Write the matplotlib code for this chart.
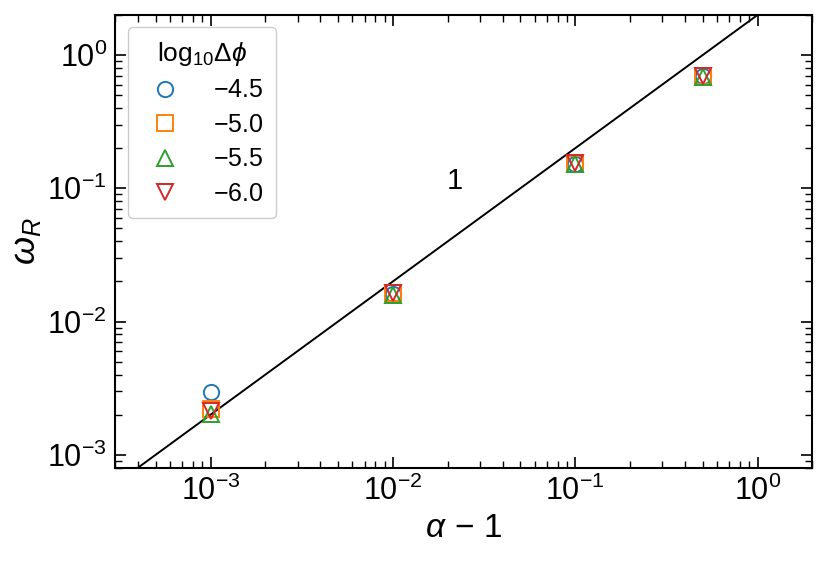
import numpy as np
import matplotlib
matplotlib.use("Agg")
import matplotlib.pyplot as plt

plt.rcParams['font.family'] = ['Liberation Sans', 'DejaVu Sans']
plt.rcParams['mathtext.fontset'] = 'custom'
plt.rcParams['mathtext.rm'] = 'Liberation Sans'
plt.rcParams['mathtext.it'] = 'Liberation Sans:italic'
plt.rcParams['mathtext.bf'] = 'Liberation Sans:bold'

# data
alpha_minus_1 = [1e-3, 1e-2, 1e-1, 0.5]
labels = ['$-4.5$', '$-5.0$', '$-5.5$', '$-6.0$']
omega_m45 = [2.97e-3, 0.0160, 0.152, 0.70]
omega_m50 = [2.22e-3, 0.0163, 0.153, 0.70]
omega_m55 = [2.02e-3, 0.0157, 0.151, 0.69]
omega_m60 = [2.12e-3, 0.0164, 0.154, 0.70]
series = [omega_m45, omega_m50, omega_m55, omega_m60]
markers = ['o', 's', '^', 'v']
colors = ['C0', 'C1', 'C2', 'C3']

# reference line omega = 2 (alpha-1)
ref_x = np.array([1e-4, 10.0])
ref_coef = 2.0

fig = plt.figure(figsize=(8.29, 5.63), dpi=100)
ax = fig.add_axes([0.139, 0.1693, 0.841, 0.8041])

ax.plot(ref_x, ref_coef * ref_x, color='black', lw=1.4, zorder=1)
for ys, m, c, lab in zip(series, markers, colors, labels):
    ax.plot(alpha_minus_1, ys, linestyle='none', marker=m, markersize=11,
            markerfacecolor='none', markeredgecolor=c, markeredgewidth=1.4,
            label=lab, zorder=3)

ax.set_xscale('log')
ax.set_yscale('log')
ax.set_xlim(3e-4, 2)
ax.set_ylim(8e-4, 2)

ax.text(0.0218, 0.114, '1', fontsize=21, ha='center', va='center')

ax.set_xlabel(r'$\alpha\,-\,1$', fontsize=24, labelpad=4)
ax.set_ylabel(r'$\omega_R$', fontsize=26, labelpad=3)

ax.tick_params(which='both', direction='in', top=True, right=True, labelsize=22)
ax.tick_params(which='major', length=8, width=1.2, pad=6)
ax.tick_params(which='minor', length=5, width=1.0)
for s in ax.spines.values():
    s.set_linewidth(1.5)

leg = ax.legend(title=r'log$_{10}\Delta\phi$', loc='upper left', fontsize=18,
                title_fontsize=19, handletextpad=0.9, borderpad=0.5,
                labelspacing=0.42, framealpha=1.0, edgecolor='#cccccc',
                borderaxespad=0.5)

fig.savefig('out.png', dpi=100)
